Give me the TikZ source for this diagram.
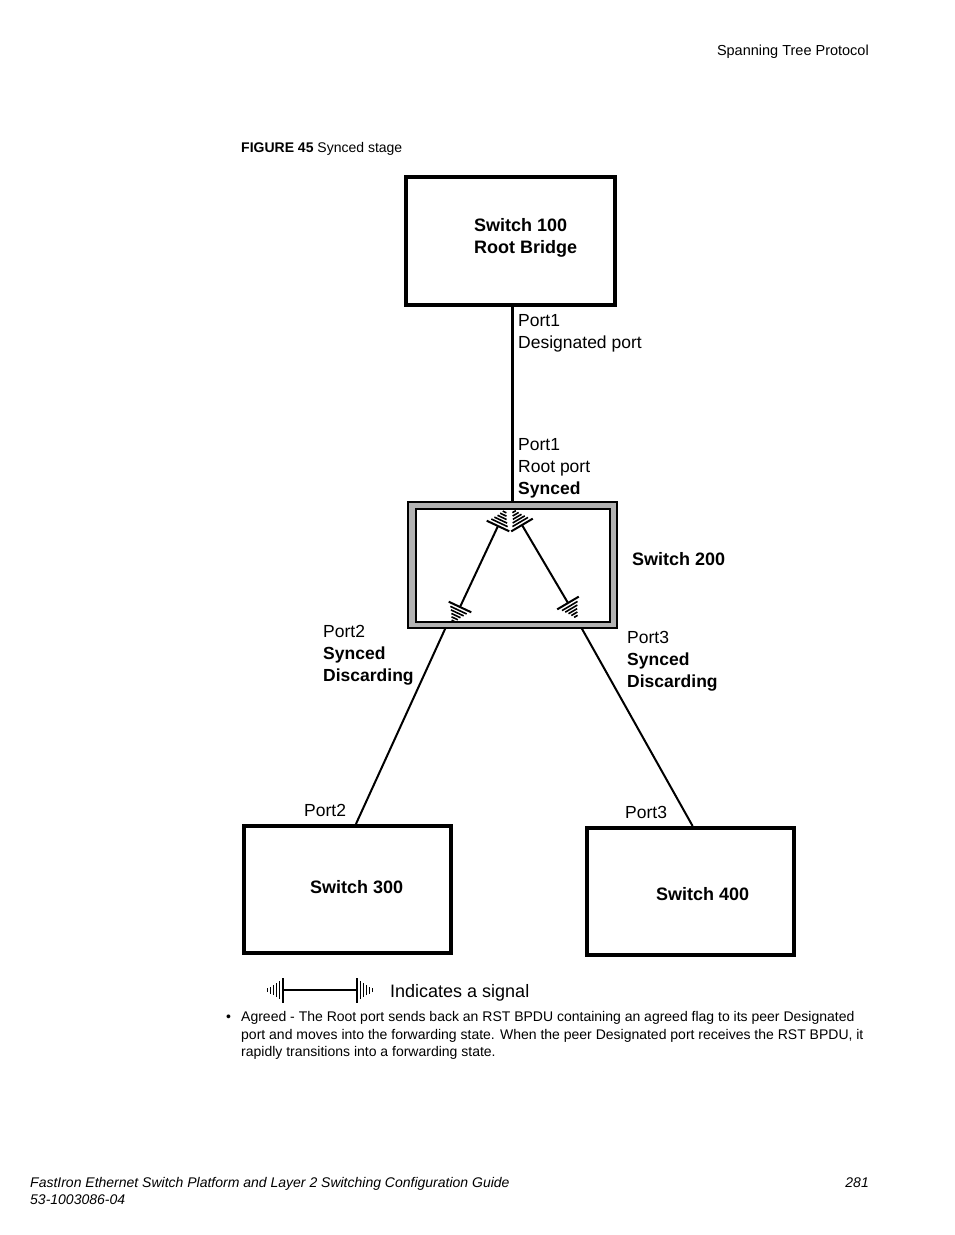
\documentclass[tikz,border=0pt]{standalone}
\usepackage{fontspec}
\setmainfont{Liberation Sans}
\usetikzlibrary{calc,decorations.markings}

% one end of a signal: bar plus shrinking ticks
\newcommand{\sigcomb}[1]{%
  \draw[line width=2pt] (0pt,-12.5pt) -- (0pt,12.5pt);
  \foreach \d/\h in {3.5/9,6.5/7,9.5/5,12.5/3.5,15.5/2}
    \draw[line width=1.6pt] ({#1*\d*1pt},{-\h*1pt}) -- ({#1*\d*1pt},{\h*1pt});
}

\tikzset{
  swbox/.style={draw, line width=4pt, minimum width=207pt, minimum height=127pt, inner sep=0pt},
  lbl/.style={anchor=base west, inner sep=0pt, align=left, font=\fontsize{17.5}{22}\selectfont},
  blbl/.style={lbl, font=\fontsize{18}{22}\selectfont\bfseries},
  txt/.style={anchor=base west, inner sep=0pt, font=\fontsize{14}{18}\selectfont},
  signal/.style={line width=2pt, postaction={decorate},
    decoration={markings, mark=at position 0 with {\sigcomb{-1}},
      mark=at position 1 with {\sigcomb{1}}}}
}

\begin{document}
\begin{tikzpicture}[x=1pt,y=-1pt]
  \useasboundingbox[fill=white] (0,0) rectangle (954,1235);
  % page texts
  \node[txt, anchor=base east, font=\fontsize{14.5}{18}\selectfont] (head) at (869,55) {Spanning Tree Protocol};
  \node[txt] (fig) at (241,152) {\textbf{FIGURE 45} Synced stage};
  % switches
  \node[swbox, minimum width=209pt, minimum height=128pt] (sw100) at (510.5,241) {};
  \node[swbox, minimum width=209pt, minimum height=126pt, fill=gray!60,
        draw=black, line width=1.2pt] (sw200) at (512.5,565) {};
  \node[draw, line width=2pt, fill=white, minimum width=194pt, minimum height=113pt,
        inner sep=0pt] (sw200in) at (sw200) {};
  \node[swbox] (sw300) at (347.5,889.5) {};
  \node[swbox] (sw400) at (690.5,891.5) {};
  \node[blbl] (t100) at (474,253.5) {Switch 100\\Root Bridge};
  \node[blbl] (t200) at (632,565.5) {Switch 200};
  \node[blbl] (t300) at (310,893.5) {Switch 300};
  \node[blbl] (t400) at (656,900.5) {Switch 400};
  % links
  \draw[line width=3pt] (sw200.north -| 512,0) -- (sw100.south -| 512,0);
  \draw[line width=2pt] ($(sw200.south west)!0.18!(sw200.south east)$)
    -- ($(sw300.north west)!0.54!(sw300.north east)$);
  \draw[line width=2pt] ($(sw200.south west)!0.83!(sw200.south east)$)
    -- ($(sw400.north west)!0.51!(sw400.north east)$);
  % port labels
  \node[lbl] (p1d) at (518,348) {Port1\\Designated port};
  \node[lbl] (p1r) at (518,494) {Port1\\Root port\\\textbf{Synced}};
  \node[lbl] (p2a) at (323,681) {Port2\\\textbf{Synced}\\\textbf{Discarding}};
  \node[lbl] (p3a) at (627,687) {Port3\\\textbf{Synced}\\\textbf{Discarding}};
  \node[lbl] (p2b) at (304,816) {Port2};
  \node[lbl] (p3b) at (625,818) {Port3};
  % signals inside switch 200
  \coordinate (s1a) at (498,526);
  \coordinate (s1b) at (460,607);
  \coordinate (s2a) at (522,525);
  \coordinate (s2b) at (568,603);
  \draw[signal] (s1a) -- (s1b);
  \draw[signal] (s2a) -- (s2b);
  % legend
  \coordinate (leg1) at (283,990);
  \coordinate (leg2) at (357,990);
  \draw[signal] (leg1) -- (leg2);
  \node[lbl, font=\fontsize{18}{22}\selectfont] (legt) at (390,997.5) {Indicates a signal};
  % bullet text
  \node[txt] (bul) at (226,1021) {•};
  \node[txt] (l1) at (241,1021) {Agreed - The Root port sends back an RST BPDU containing an agreed flag to its peer Designated};
  \node[txt] (l2) at (241,1039) {port and moves into the forwarding state. When the peer Designated port receives the RST BPDU, it};
  \node[txt] (l3) at (241,1056) {rapidly transitions into a forwarding state.};
  % footer
  \node[txt, font=\fontsize{14}{17}\selectfont\itshape] (f1) at (30,1187) {FastIron Ethernet Switch Platform and Layer 2 Switching Configuration Guide};
  \node[txt, font=\fontsize{14}{17}\selectfont\itshape] (f2) at (30,1204) {53-1003086-04};
  \node[txt, anchor=base east, font=\fontsize{14}{17}\selectfont\itshape] (pg) at (869,1187) {281};
\end{tikzpicture}
\end{document}
